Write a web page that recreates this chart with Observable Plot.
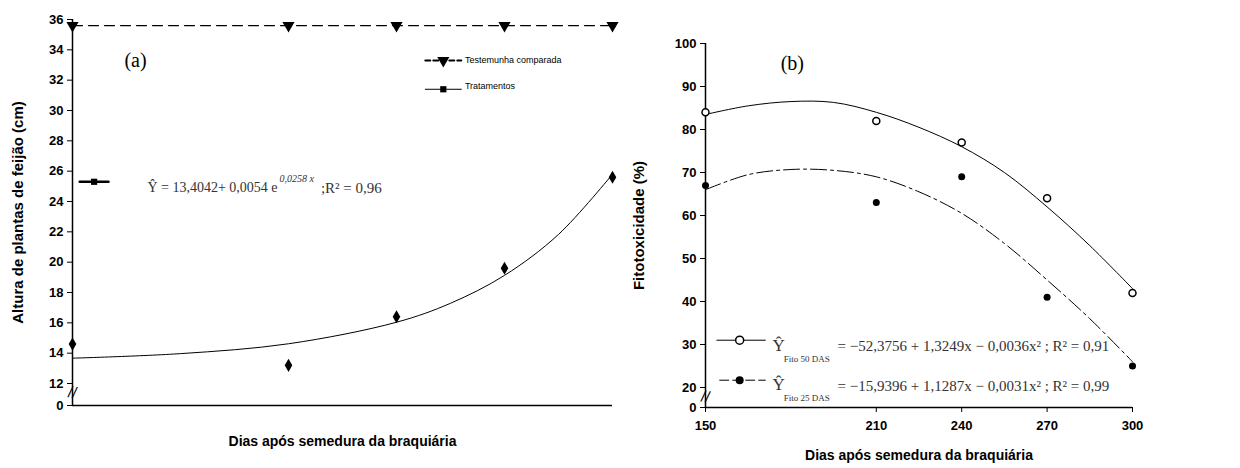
<!DOCTYPE html>
<html><head><meta charset="utf-8">
<script src="https://cdn.jsdelivr.net/npm/d3@7"></script>
<script src="https://cdn.jsdelivr.net/npm/@observablehq/plot@0.6"></script>
<style>
body{margin:0;background:#fff}
#wrap{display:flex;width:1240px;height:468px}
svg{font-family:"Liberation Sans",Arial,sans-serif}
</style></head><body><div id="wrap"></div>
<script>
// dias após semedura
const dias = [150, 210, 240, 270, 300]
// painel (a)
const testemunha = [35.6, 35.6, 35.6, 35.6, 35.6]
const tratamentos = [14.6, 13.2, 16.4, 19.6, 25.6]
const curvaAx = [150, 180, 210, 240, 255, 270, 285, 300]
const curvaAy = [13.67, 13.97, 14.62, 16.04, 17.29, 19.13, 21.83, 25.8]
// painel (b)
const fito50 = [84, 82, 77, 64, 42]
const fito25 = [67, 63, 69, 41, 25]
const curvaBx = [150, 165, 180, 195, 210, 225, 240, 255, 270, 285, 300]
const curva50 = [83.5, 85.5, 86.5, 86.3, 84, 80.5, 76, 70, 62, 53, 43]
const curva25 = [66, 69.5, 70.7, 70.5, 69, 65.5, 60.5, 53.5, 45, 36, 26]

const ticksA = [12, 14, 16, 18, 20, 22, 24, 26, 28, 30, 32, 34, 36]
const zeroA = 10.55
const ticksB = [20, 30, 40, 50, 60, 70, 80, 90, 100]
const zeroB = 15.35

const bold = {fontWeight: "bold", fontSize: 13}
const serif = "Liberation Serif, Times New Roman, serif"

const rows = (ys) => dias.map((d, i) => ({x: d, y: ys[i]}))
const curve = (xs, ys) => xs.map((d, i) => ({x: d, y: ys[i]}))
const seg = (x1, x2, y) => [{x: x1, y}, {x: x2, y}]

const a = Plot.plot({
  width: 620, height: 468,
  marginLeft: 72, marginRight: 8, marginTop: 19, marginBottom: 63,
  x: {domain: [150, 300], axis: null},
  y: {domain: [zeroA, 36]},
  style: {fontFamily: "Liberation Sans, Arial, sans-serif", color: "#000"},
  marks: [
    Plot.ruleX([150], {strokeWidth: 1.5}),
    Plot.ruleY([zeroA], {strokeWidth: 1.5}),
    Plot.axisY([...ticksA, zeroA], {tickSize: 5, tickFormat: d => d === zeroA ? "0" : d, ...bold, label: null}),
    Plot.text(["Altura de plantas de feijão (cm)"], {frameAnchor: "left", textAnchor: "middle", dx: -54, rotate: -90, fontWeight: "bold", fontSize: 15}),
    Plot.text(["Dias após semedura da braquiária"], {frameAnchor: "bottom", dy: 40, fontWeight: "bold", fontSize: 14}),
    Plot.text(["//"], {x: 150, y: 11.4, fontSize: 16, rotate: 10}),
    Plot.line(rows(testemunha), {x: "x", y: "y", strokeDasharray: "10,6", strokeWidth: 1.2}),
    Plot.dot(rows(testemunha), {x: "x", y: "y", symbol: "triangle", rotate: 180, r: 4.5, fill: "#000"}),
    Plot.line(curve(curvaAx, curvaAy), {x: "x", y: "y", curve: "catmull-rom", strokeWidth: 1}),
    Plot.dot(rows(tratamentos), {x: "x", y: "y", symbol: "diamond", r: 4, fill: "#000"}),
    Plot.text(["(a)"], {x: 167.5, y: 33.3, fontFamily: serif, fontSize: 20}),
    // legenda
    Plot.line(seg(248, 258, 33.3), {x: "x", y: "y", strokeDasharray: "5,3", strokeWidth: 2}),
    Plot.dot([{x: 253, y: 33.3}], {x: "x", y: "y", symbol: "triangle", rotate: 180, r: 4.5, fill: "#000"}),
    Plot.text(["Testemunha comparada"], {x: 259, y: 33.3, textAnchor: "start", fontSize: 9}),
    Plot.line(seg(248, 258, 31.4), {x: "x", y: "y", strokeWidth: 1}),
    Plot.dot([{x: 253, y: 31.4}], {x: "x", y: "y", symbol: "square", r: 3.5, fill: "#000"}),
    Plot.text(["Tratamentos"], {x: 259, y: 31.6, textAnchor: "start", fontSize: 9}),
    Plot.line(seg(152, 160, 25.3), {x: "x", y: "y", strokeWidth: 2.5}),
    Plot.dot([{x: 156, y: 25.3}], {x: "x", y: "y", symbol: "square", r: 3.5, fill: "#000"}),
    Plot.text(["Ŷ = 13,4042+ 0,0054 e"], {x: 170.8, y: 24.9, textAnchor: "start", fontFamily: serif, fontSize: 14, fill: "#333"}),
    Plot.text(["0,0258 x"], {x: 207.5, y: 25.5, textAnchor: "start", fontFamily: serif, fontSize: 10, fontStyle: "italic", fill: "#333"}),
    Plot.text([";R² = 0,96"], {x: 219, y: 24.9, textAnchor: "start", fontFamily: serif, fontSize: 15, fill: "#333"})
  ]
})

const b = Plot.plot({
  width: 620, height: 468,
  marginLeft: 85, marginRight: 108, marginTop: 43, marginBottom: 61,
  x: {domain: [150, 300]},
  y: {domain: [zeroB, 100]},
  style: {fontFamily: "Liberation Sans, Arial, sans-serif", color: "#000"},
  marks: [
    Plot.ruleX([150], {strokeWidth: 1.5}),
    Plot.ruleY([zeroB], {strokeWidth: 1.5}),
    Plot.axisY([...ticksB, zeroB], {tickSize: 5, tickFormat: d => d === zeroB ? "0" : d, ...bold, label: null}),
    Plot.axisX(dias, {tickSize: 5, ...bold, tickPadding: 8, label: null}),
    Plot.text(["Fitotoxicidade (%)"], {frameAnchor: "left", textAnchor: "middle", dx: -66, rotate: -90, fontWeight: "bold", fontSize: 15}),
    Plot.text(["Dias após semedura da braquiária"], {frameAnchor: "bottom", x: 225, dy: 52, fontWeight: "bold", fontSize: 14}),
    Plot.text(["//"], {x: 150, y: 17.8, fontSize: 16, rotate: 10}),
    Plot.line(curve(curvaBx, curva50), {x: "x", y: "y", curve: "catmull-rom", strokeWidth: 1}),
    Plot.line(curve(curvaBx, curva25), {x: "x", y: "y", curve: "catmull-rom", strokeWidth: 1, strokeDasharray: "16,4,3,4"}),
    Plot.dot(rows(fito50), {x: "x", y: "y", r: 3.5, fill: "#fff", stroke: "#000"}),
    Plot.dot(rows(fito25), {x: "x", y: "y", r: 3.5, fill: "#000"}),
    Plot.text(["(b)"], {x: 180.5, y: 95.3, fontFamily: serif, fontSize: 20}),
    // legenda
    Plot.line(seg(154, 171, 31), {x: "x", y: "y", strokeWidth: 1}),
    Plot.dot([{x: 162, y: 31}], {x: "x", y: "y", r: 4, fill: "#fff", stroke: "#000"}),
    Plot.text(["Ŷ"], {x: 173.5, y: 29.8, textAnchor: "start", fontFamily: serif, fontSize: 17, fill: "#333"}),
    Plot.text(["Fito 50 DAS"], {x: 177.5, y: 26.7, textAnchor: "start", fontFamily: serif, fontSize: 9, fill: "#333"}),
    Plot.text(["= −52,3756 + 1,3249x − 0,0036x² ; R² = 0,91"], {x: 196.4, y: 29.7, textAnchor: "start", fontFamily: serif, fontSize: 15, fill: "#333"}),
    Plot.line(seg(155, 171, 21.7), {x: "x", y: "y", strokeWidth: 1, strokeDasharray: "9,4"}),
    Plot.dot([{x: 162, y: 21.7}], {x: "x", y: "y", r: 4, fill: "#000"}),
    Plot.text(["Ŷ"], {x: 173.5, y: 20.6, textAnchor: "start", fontFamily: serif, fontSize: 17, fill: "#333"}),
    Plot.text(["Fito 25 DAS"], {x: 177.5, y: 17.5, textAnchor: "start", fontFamily: serif, fontSize: 9, fill: "#333"}),
    Plot.text(["= −15,9396 + 1,1287x − 0,0031x² ; R² = 0,99"], {x: 196.4, y: 20.3, textAnchor: "start", fontFamily: serif, fontSize: 15, fill: "#333"})
  ]
})

document.getElementById("wrap").append(a, b)
</script></body></html>
